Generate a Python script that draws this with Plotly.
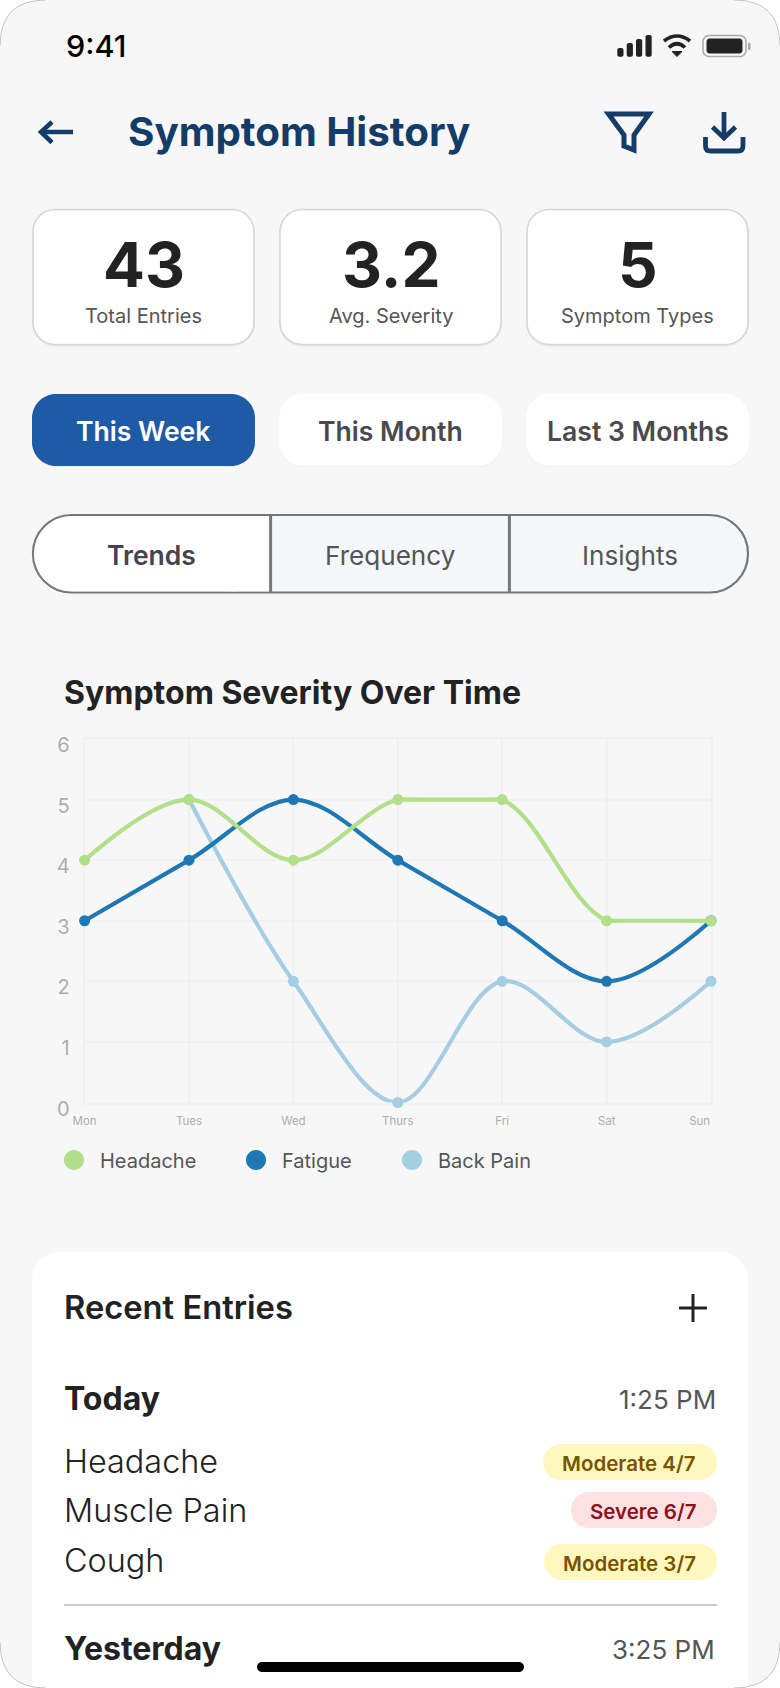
"""Symptom History phone screen: severity chart plus the surrounding app chrome."""

import plotly.graph_objects as go

W, H = 780, 1688

DAYS = ["Mon", "Tues", "Wed", "Thurs", "Fri", "Sat", "Sun"]
HEADACHE = [4, 5, 4, 5, 5, 3, 3]
FATIGUE = [3, 4, 5, 4, 3, 2, 3]
BACK_PAIN = [4, 5, 2, 0, 2, 1, 2]
SEVERITY_TICKS = [0, 1, 2, 3, 4, 5, 6]

STAT_VALUES = ["43", "3.2", "5"]
STAT_LABELS = ["Total Entries", "Avg. Severity", "Symptom Types"]
PERIODS = ["This Week", "This Month", "Last 3 Months"]
TABS = ["Trends", "Frequency", "Insights"]
LEGEND_NAMES = ["Headache", "Fatigue", "Back Pain"]
ENTRY_NAMES = ["Headache", "Muscle Pain", "Cough"]
ENTRY_BADGES = ["Moderate 4/7", "Severe 6/7", "Moderate 3/7"]

GREEN = "#B2DF8A"
BLUE = "#1F78B4"
LIGHT = "#A6CEE3"
NAVY = "#143C69"
INK = "#222222"
GREY = "#555555"
GRID = "#F0F1F1"
FONT = "Inter"

PLOT_LEFT, PLOT_RIGHT = 84.6, 711
PLOT_TOP, PLOT_BOTTOM = 739, 1102.5
LINE_W = 4.2
MARKER = 11

shapes = []
notes = []


def fx(x):
    return x / W


def fy(y):
    return 1 - y / H


def rrect(x0, y0, x1, y1, r):
    """Rounded rectangle path in paper coordinates."""
    k = 0.45

    def p(x, y):
        return f"{fx(x):.5f},{fy(y):.5f}"

    return (
        f"M{p(x0 + r, y0)} L{p(x1 - r, y0)} "
        f"C{p(x1 - r * k, y0)} {p(x1, y0 + r * k)} {p(x1, y0 + r)} "
        f"L{p(x1, y1 - r)} "
        f"C{p(x1, y1 - r * k)} {p(x1 - r * k, y1)} {p(x1 - r, y1)} "
        f"L{p(x0 + r, y1)} "
        f"C{p(x0 + r * k, y1)} {p(x0, y1 - r * k)} {p(x0, y1 - r)} "
        f"L{p(x0, y0 + r)} "
        f"C{p(x0, y0 + r * k)} {p(x0 + r * k, y0)} {p(x0 + r, y0)} Z"
    )


def box(x0, y0, x1, y1, r, fill, line=None, lw=0):
    shapes.append(
        dict(
            type="path",
            path=rrect(x0, y0, x1, y1, r),
            xref="paper",
            yref="paper",
            fillcolor=fill,
            line=dict(color=line or fill, width=lw),
            layer="below",
        )
    )


def stroke(points, color, lw, close=False, fill=None):
    """Polyline through pixel points; a tuple of 4 makes a quadratic step."""
    parts = []
    for i, pt in enumerate(points):
        if len(pt) == 4:
            parts.append(
                f"Q{fx(pt[0]):.5f},{fy(pt[1]):.5f} {fx(pt[2]):.5f},{fy(pt[3]):.5f}"
            )
        else:
            parts.append(f"{'M' if i == 0 else 'L'}{fx(pt[0]):.5f},{fy(pt[1]):.5f}")
    path = " ".join(parts) + (" Z" if close else "")
    shapes.append(
        dict(
            type="path",
            path=path,
            xref="paper",
            yref="paper",
            fillcolor=fill or "rgba(0,0,0,0)",
            line=dict(color=color, width=lw),
            layer="below",
        )
    )


def text(x, y, s, size, color=INK, weight=400, anchor="left"):
    notes.append(
        dict(
            x=fx(x),
            y=fy(y),
            xref="paper",
            yref="paper",
            text=s,
            showarrow=False,
            xanchor=anchor,
            yanchor="middle",
            font=dict(family=FONT, size=size, color=color, weight=weight),
        )
    )


# phone body
CORNER = 46
stroke(
    [
        (CORNER, 0),
        (W - CORNER, 0),
        (W, 0, W, CORNER),
        (W, H - CORNER),
        (W, H, W - CORNER, H),
        (CORNER, H),
        (0, H, 0, H - CORNER),
        (0, CORNER),
        (0, 0, CORNER, 0),
    ],
    "#F7F7F8",
    0,
    True,
    "#F7F7F8",
)

# status bar
text(96, 45, "9:41", 30.5, "#000000", 500, "center")
for bx, top in zip([617.3, 626.7, 636, 645.5], [48, 43, 39, 35]):
    box(bx, top, bx + 6.2, 56.7, 2, "#222222")
stroke([(664, 41), (677, 31, 690, 41)], "#222222", 3.6)
stroke([(669, 47.5), (677, 40, 685, 47.5)], "#222222", 3.6)
stroke([(672, 51.5), (682, 51.5), (677, 56.5)], "#222222", 1, True, "#222222")
box(703, 35.5, 746, 56.5, 6, "rgba(0,0,0,0)", "#ABABAB", 1.6)
box(706.5, 38.5, 742.5, 53.5, 3, "#222222")
box(748, 42.7, 750.5, 50, 1, "#ABABAB")

# header
stroke([(41, 132), (73, 132)], NAVY, 4.5)
stroke([(52, 122), (41, 132), (52, 142.5)], NAVY, 4.5)
text(125.5, 132, "Symptom History", 40.3, NAVY, 700)
stroke(
    [(608.5, 114), (649, 114), (634, 135), (634, 150), (624, 146), (624, 135)],
    NAVY,
    5,
    True,
)
stroke([(724, 112), (724, 138)], NAVY, 4.8)
stroke([(712.5, 127), (724, 138), (735.5, 127)], NAVY, 4.8)
stroke(
    [(705.5, 137), (705.5, 146), (705.5, 151, 710.5, 151), (738, 151), (743, 151, 743, 146), (743, 137)],
    NAVY,
    4.8,
)

# summary cards
CARD_X = [(33, 254), (280, 501), (527, 748)]
for (x0, x1), value, label in zip(CARD_X, STAT_VALUES, STAT_LABELS):
    box(x0 - 1, 211, x1 + 1, 347, 24, "#ECECEC")
    box(x0, 209.5, x1, 344.5, 22, "#FFFFFF", "#D6D6D6", 1.6)
    text((x0 + x1) / 2, 265, value, 62, INK, 700, "center")
    text((x0 + x1) / 2, 316, label, 20, GREY, 400, "center")

# period pills
PILL_X = [(32, 255), (279, 502), (526, 749)]
for i, ((x0, x1), period) in enumerate(zip(PILL_X, PERIODS)):
    box(x0, 395.5, x1, 467, 24, "#EFEFF0")
    box(x0, 394, x1, 466, 24, "#1F5AA6" if i == 0 else "#FFFFFF")
    text((x0 + x1) / 2, 431, period, 26.6, "#FFFFFF" if i == 0 else "#4A4A4A", 600, "center")

# view tabs
box(33, 515, 748, 592.5, 38.5, "#F4F8FB", "#76767C", 2.2)
box(34.2, 516.2, 270.6, 591.3, 37.3, "#FFFFFF")
box(225, 516.2, 270.6, 591.3, 0, "#FFFFFF")
stroke([(270.6, 515), (270.6, 592.5)], "#76767C", 3)
stroke([(509.4, 515), (509.4, 592.5)], "#76767C", 3)
for cx, tab, i in zip([151.5, 390, 630], TABS, range(3)):
    text(cx, 555, tab, 26.5 if i == 0 else 26.1, "#46434F" if i == 0 else GREY, 600 if i == 0 else 400, "center")

# chart title and legend
text(62, 692.5, "Symptom Severity Over Time", 32, INK, 700)
for cx, color, name in zip([74, 256, 412], [GREEN, BLUE, LIGHT], LEGEND_NAMES):
    box(cx - 10, 1150, cx + 10, 1170, 10, color)
    text(cx + 24, 1161, name, 20, GREY)

# recent entries
box(32, 1252, 748, 1720, 28, "#FFFFFF")
text(62, 1307, "Recent Entries", 32.7, INK, 600)
stroke([(679, 1308), (707, 1308)], INK, 3)
stroke([(693, 1294), (693, 1322)], INK, 3)
text(62, 1398, "Today", 32, INK, 700)
text(718, 1399, "1:25 PM", 26, GREY, 400, "right")
BADGE_STYLE = [
    (543, "#FFF8BE", "#7A5200"),
    (571, "#FFE1E1", "#8E0F1F"),
    (544, "#FFF8BE", "#7A5200"),
]
for i, (name, badge) in enumerate(zip(ENTRY_NAMES, ENTRY_BADGES)):
    cy = [1461, 1510, 1560][i]
    by = [1462, 1510, 1562][i]
    x0, fill, ink = BADGE_STYLE[i]
    text(62, cy, name, 32.4, INK, 300)
    box(x0, by - 18, 717, by + 18, 18, fill)
    text((x0 + 715.5) / 2, by + 1, badge, 20.5, ink, 600, "center")
stroke([(64, 1605), (717, 1605)], "#C8C8D0", 2)
text(62, 1648, "Yesterday", 32, INK, 700)
text(717, 1649, "3:25 PM", 26, GREY, 400, "right")
box(257, 1662, 524, 1672, 5, "#000000")

# phone corner outline goes over the cards
for arc in [
    [(0, CORNER), (0, 0, CORNER, 0)],
    [(W - CORNER, 0), (W, 0, W, CORNER)],
    [(W, H - CORNER), (W, H, W - CORNER, H)],
    [(CORNER, H), (0, H, 0, H - CORNER)],
]:
    stroke(arc, "#C4C4C4", 1)

UNIT = (PLOT_BOTTOM - PLOT_TOP) / 6
BAND = LINE_W / 2 / UNIT  # half the stroke, in severity units

fig = go.Figure()

# back pain sits under headache on Monday, so its line starts at Tuesday
fig.add_trace(
    go.Scatter(
        x=DAYS[1:],
        y=BACK_PAIN[1:],
        name="Back Pain",
        mode="lines+markers",
        line=dict(color=LIGHT, width=LINE_W, shape="spline"),
        marker=dict(color=LIGHT, size=MARKER),
        cliponaxis=False,
    )
)
fig.add_trace(
    go.Scatter(
        x=DAYS,
        y=FATIGUE,
        name="Fatigue",
        mode="lines+markers",
        line=dict(color=BLUE, width=LINE_W, shape="spline"),
        marker=dict(color=BLUE, size=MARKER),
        cliponaxis=False,
    )
)
# headache curve lives on its own subplot cut to the 3-5 band: plotly's spline
# bulges past the Thurs-Fri and Sat-Sun stretches and the clip trims the bulge
fig.add_trace(
    go.Scatter(
        x=DAYS,
        y=HEADACHE,
        name="Headache",
        mode="lines",
        line=dict(color=GREEN, width=LINE_W, shape="spline"),
        xaxis="x2",
        yaxis="y2",
    )
)
# flat stretches of headache, drawn straight
for i in range(len(DAYS) - 1):
    if HEADACHE[i] == HEADACHE[i + 1]:
        fig.add_trace(
            go.Scatter(
                x=DAYS[i : i + 2],
                y=HEADACHE[i : i + 2],
                name="Headache",
                mode="lines",
                line=dict(color=GREEN, width=LINE_W),
                xaxis="x3",
                yaxis="y3",
            )
        )
fig.add_trace(
    go.Scatter(
        x=DAYS,
        y=HEADACHE,
        name="Headache",
        mode="markers",
        marker=dict(color=GREEN, size=MARKER),
        xaxis="x3",
        yaxis="y3",
        cliponaxis=False,
    )
)

x_common = dict(
    domain=[fx(PLOT_LEFT), fx(PLOT_RIGHT)],
    type="category",
    categoryorder="array",
    categoryarray=DAYS,
    range=[0, 6],
    automargin=False,
    fixedrange=True,
)

fig.update_layout(
    width=W,
    height=H,
    margin=dict(l=0, r=0, t=0, b=0),
    paper_bgcolor="#FFFFFF",
    plot_bgcolor="rgba(0,0,0,0)",
    showlegend=False,
    shapes=shapes,
    annotations=notes,
    font=dict(family=FONT),
    xaxis=dict(
        x_common,
        tickmode="array",
        tickvals=DAYS,
        ticktext=DAYS[:-1] + ["Sun" + "\u00a0" * 7],
        tickfont=dict(family=FONT, size=11.5, color="#ADADAD"),
        ticks="",
        ticklabelstandoff=7,
        showgrid=True,
        gridcolor=GRID,
        gridwidth=2,
        zeroline=False,
        showline=True,
        mirror=True,
        linecolor=GRID,
        linewidth=2,
        layer="below traces",
    ),
    yaxis=dict(
        domain=[fy(PLOT_BOTTOM), fy(PLOT_TOP)],
        range=[0, 6],
        tickmode="array",
        tickvals=SEVERITY_TICKS,
        tickfont=dict(family=FONT, size=20, color="#ADADAD"),
        ticks="",
        ticklabelshift=6,
        ticklabelstandoff=9,
        showgrid=True,
        gridcolor=GRID,
        gridwidth=2,
        zeroline=False,
        showline=True,
        mirror=True,
        linecolor=GRID,
        linewidth=2,
        layer="below traces",
        automargin=False,
        fixedrange=True,
    ),
    xaxis2=dict(x_common, anchor="y2", visible=False),
    yaxis2=dict(
        # band from severity 3 to 5, with half a stroke of slack on each side
        domain=[fy(PLOT_BOTTOM - UNIT * (3 - BAND)), fy(PLOT_BOTTOM - UNIT * (5 + BAND))],
        range=[3 - BAND, 5 + BAND],
        anchor="x2",
        visible=False,
        fixedrange=True,
    ),
    xaxis3=dict(x_common, anchor="y3", visible=False),
    yaxis3=dict(
        domain=[fy(PLOT_BOTTOM), fy(PLOT_TOP)],
        range=[0, 6],
        anchor="x3",
        visible=False,
        fixedrange=True,
    ),
)

fig.write_html(
    "out.html",
    config=dict(displayModeBar=False),
    post_script="document.body.style.margin='0';document.body.style.overflow='hidden';",
)
